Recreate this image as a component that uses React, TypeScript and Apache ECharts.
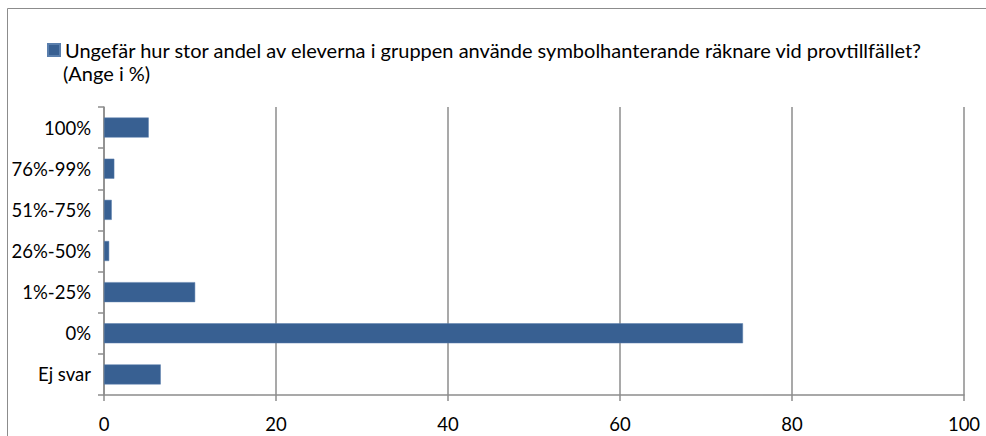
import React, { useEffect, useRef } from "react";
import * as echarts from "echarts";

const categories = ["100%", "76%-99%", "51%-75%", "26%-50%", "1%-25%", "0%", "Ej svar"];
const values = [5.2, 1.2, 0.9, 0.6, 10.6, 74.3, 6.6];
const legendLines = [
  "Ungefär hur stor andel av eleverna i gruppen använde symbolhanterande räknare vid provtillfället?",
  "(Ange i %)",
];
const seriesName = legendLines.join("\n");
const xTicks = { min: 0, max: 100, interval: 20 };

export default function App() {
  const ref = useRef<HTMLDivElement>(null);
  useEffect(() => {
    if (!ref.current) return;
    const chart = echarts.init(ref.current, null, { renderer: "svg" });
    const font = "Lato, sans-serif";
    chart.setOption({
      animation: false,
      backgroundColor: "#ffffff",
      textStyle: { fontFamily: font },
      graphic: [
        { type: "line", shape: { x1: 7.5, y1: 8.5, x2: 986, y2: 8.5 }, style: { stroke: "#8c8c8c", lineWidth: 1 } },
        { type: "line", shape: { x1: 7.5, y1: 8.5, x2: 7.5, y2: 436 }, style: { stroke: "#8c8c8c", lineWidth: 1 } },
        {
          type: "text",
          left: 63,
          top: 63,
          style: { text: legendLines[1], font: "20px Lato, sans-serif", fill: "#000" },
        },
      ],
      legend: {
        left: 47,
        top: 40,
        padding: 0,
        itemWidth: 12,
        itemHeight: 12,
        itemGap: 5,
        icon: "rect",
        formatter: (name: string) => name.split("\n")[0],
        textStyle: { fontFamily: font, fontSize: 20, color: "#000" },
        data: [seriesName],
      },
      grid: { left: 104, right: 22, top: 107, bottom: 41, containLabel: false },
      xAxis: {
        type: "value",
        min: xTicks.min,
        max: xTicks.max,
        interval: xTicks.interval,
        axisLine: { show: true, lineStyle: { color: "#8c8c8c", width: 1.5 } },
        axisTick: { show: true, length: 6, lineStyle: { color: "#8c8c8c", width: 1.5 } },
        axisLabel: { color: "#000", fontSize: 18.5, margin: 19, fontFamily: font },
        splitLine: { show: true, lineStyle: { color: "#8c8c8c", width: 1.5 } },
      },
      yAxis: {
        type: "category",
        data: categories,
        inverse: true,
        axisLine: { show: true, lineStyle: { color: "#8c8c8c", width: 1.5 } },
        axisTick: { show: true, length: 6, alignWithLabel: false, lineStyle: { color: "#8c8c8c", width: 1.5 } },
        axisLabel: { color: "#000", fontSize: 18.5, margin: 13, fontFamily: font },
        splitLine: { show: false },
      },
      series: [
        {
          name: seriesName,
          type: "bar",
          data: values,
          barWidth: 20,
          itemStyle: { color: "#386092", borderColor: "#5a7fad", borderWidth: 0.5 },
        },
      ],
    });
    return () => chart.dispose();
  }, []);
  return <div ref={ref} style={{ width: 986, height: 436, position: "absolute", left: 0, top: 0 }} />;
}
